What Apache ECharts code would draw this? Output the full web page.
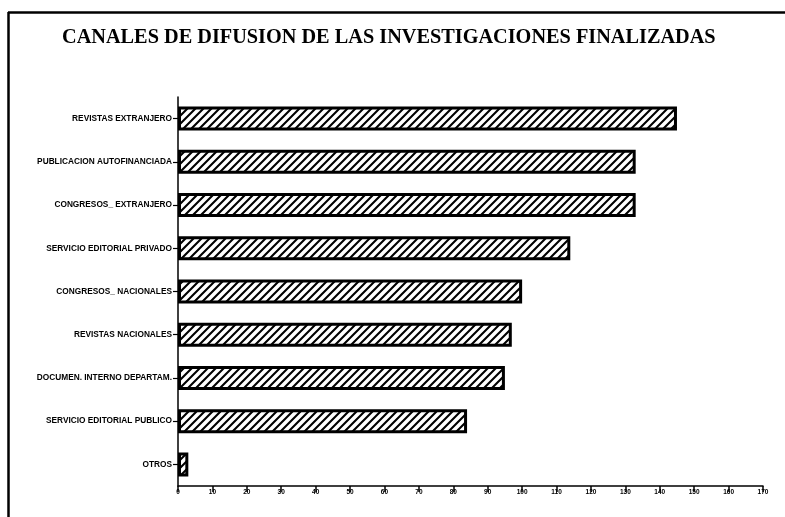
<!DOCTYPE html>
<html>
<head>
<meta charset="utf-8">
<script src="https://cdn.jsdelivr.net/npm/echarts@6/dist/echarts.min.js"></script>
<style>html,body{margin:0;padding:0;background:#fff;}#c{width:785px;height:517px;}</style>
</head>
<body>
<div id="c"></div>
<script>
const titleText = 'CANALES DE DIFUSION DE LAS INVESTIGACIONES FINALIZADAS';
const categories = [
  'REVISTAS EXTRANJERO',
  'PUBLICACION AUTOFINANCIADA',
  'CONGRESOS_ EXTRANJERO',
  'SERVICIO EDITORIAL PRIVADO',
  'CONGRESOS_ NACIONALES',
  'REVISTAS NACIONALES',
  'DOCUMEN. INTERNO DEPARTAM.',
  'SERVICIO EDITORIAL PUBLICO',
  'OTROS'
];
const values = [145, 133, 133, 114, 100, 97, 95, 84, 3];
const xMin = 0, xMax = 170, xStep = 10;

function hatch() {
  const s = 8;
  const c = document.createElement('canvas');
  c.width = s; c.height = s;
  const g = c.getContext('2d');
  g.fillStyle = '#fff'; g.fillRect(0, 0, s, s);
  g.strokeStyle = '#000'; g.lineWidth = 2.1;
  g.beginPath();
  g.moveTo(-1, s + 1); g.lineTo(s + 1, -1);
  g.moveTo(-1, 1); g.lineTo(1, -1);
  g.moveTo(s - 1, s + 1); g.lineTo(s + 1, s - 1);
  g.stroke();
  return c;
}

const chart = echarts.init(document.getElementById('c'), null, {renderer: 'canvas'});
chart.setOption({
  animation: false,
  backgroundColor: '#fff',
  title: {
    text: titleText,
    left: 57, top: 23,
    textStyle: {fontFamily: 'Liberation Serif', fontWeight: 'bold', fontSize: 20.3, color: '#000'}
  },
  graphic: [
    {type: 'line', shape: {x1: 8.5, y1: 12, x2: 8.5, y2: 517}, style: {stroke: '#000', lineWidth: 2.5}},
    {type: 'line', shape: {x1: 8, y1: 12.5, x2: 785, y2: 12.5}, style: {stroke: '#000', lineWidth: 2.5}}
  ],
  grid: {left: 178, right: 22, top: 97, bottom: 31, containLabel: false},
  xAxis: {
    type: 'value', min: xMin, max: xMax, interval: xStep,
    axisLine: {show: true, lineStyle: {color: '#000', width: 1.5}},
    axisTick: {show: true, length: 6, lineStyle: {color: '#000', width: 1.5}},
    axisLabel: {fontSize: 6.5, fontWeight: 'bold', color: '#000', margin: 3, fontFamily: 'Liberation Sans'},
    splitLine: {show: false}
  },
  yAxis: {
    type: 'category', data: categories, inverse: true,
    axisLine: {show: true, lineStyle: {color: '#000', width: 1.5}},
    axisTick: {show: true, length: 5, alignWithLabel: true, lineStyle: {color: '#000', width: 1.2}},
    axisLabel: {fontSize: 8.3, fontWeight: 'bold', color: '#000', margin: 6, fontFamily: 'Liberation Sans'}
  },
  series: [{
    type: 'bar',
    data: values,
    barWidth: 24,
    itemStyle: {
      color: {image: hatch(), repeat: 'repeat'},
      borderColor: '#000', borderWidth: 3
    }
  }]
});
</script>
</body>
</html>
